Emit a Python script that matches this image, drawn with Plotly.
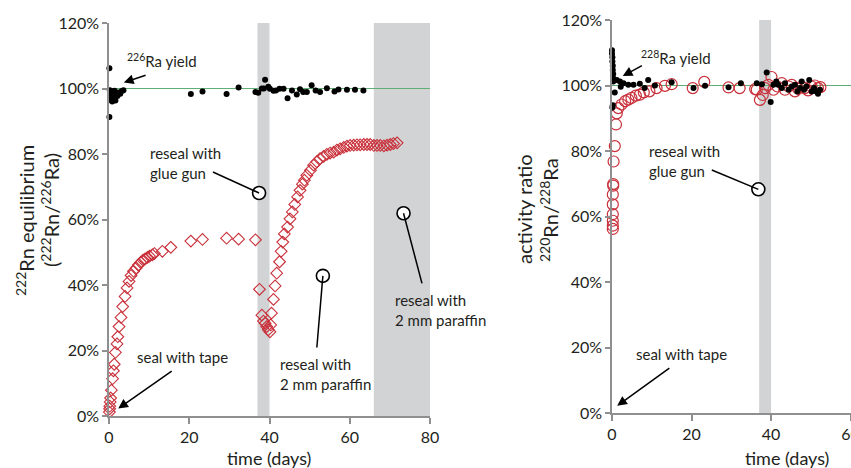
import plotly.graph_objects as go

# ---------------- data: left panel (222Rn / 226Ra) ----------------
ra226_t = [0.1, 0.1, 0.2, 0.3, 0.4, 0.5, 0.6, 0.8, 0.9, 1.0, 1.2, 1.4, 1.6, 1.8, 2.1, 2.4, 2.8, 3.2, 3.6,
           20.4, 23.3, 29.3, 32.3, 36.5, 37.2, 38.1, 38.6, 38.9, 39.7, 40.1, 41.0, 41.6, 42.5, 43.5, 44.5,
           45.6, 46.8, 47.6, 48.4, 49.3, 50.5, 51.5, 52.6, 54.3, 56.2, 57.2, 59.3, 61.3, 63.4]
ra226_v = [106.2, 91.3, 99.5, 98.0, 96.5, 97.8, 99.2, 96.0, 97.2, 98.6, 97.0, 99.3, 96.3, 98.2, 97.7, 98.8, 98.4, 99.2, 99.5,
           98.3, 99.1, 98.3, 100.3, 98.9, 98.7, 100.0, 100.0, 102.7, 100.5, 99.9, 99.3, 99.4, 99.9, 99.9, 97.0,
           99.4, 98.2, 99.8, 98.9, 98.9, 101.0, 99.4, 98.9, 100.1, 99.1, 99.7, 99.6, 99.6, 99.4]

rn222_t = [0.1, 0.15, 0.2, 0.3, 0.4, 0.6, 0.9, 1.1, 1.3, 1.6, 2.0, 2.2, 2.5, 3.0, 3.4, 4.0, 4.5, 5.0, 5.5,
           6.1, 6.8, 7.3, 7.9, 8.5, 9.0, 9.6, 10.1, 10.8, 11.3, 13.3, 15.4, 20.4, 23.3, 29.3, 32.3, 36.5,
           37.5, 38.1, 38.5, 38.9, 39.3, 39.7, 40.1, 40.3, 40.5, 41.0, 41.4, 41.8, 42.5, 42.9, 43.3, 43.7,
           44.5, 45.1, 45.7, 46.3, 47.0, 47.6, 48.2, 48.7, 49.3, 50.2, 51.0, 51.8, 52.6, 53.5, 54.3, 55.1,
           56.0, 56.8, 57.6, 58.5, 59.3, 60.1, 61.0, 61.8, 62.6, 63.5, 64.3, 65.1, 66.0, 66.8, 67.6, 68.5,
           69.3, 70.1, 70.9, 71.8]
rn222_v = [1.2, 2.2, 3.0, 4.3, 5.5, 7.9, 11.4, 13.8, 15.8, 19.4, 22.0, 24.2, 27.3, 30.1, 33.4, 36.5, 39.1, 41.1, 42.9,
           44.2, 45.2, 46.1, 46.9, 47.6, 48.0, 48.4, 48.8, 49.2, 49.6, 50.3, 51.5, 53.4, 53.9, 54.3, 54.0, 53.8,
           38.7, 30.8, 29.0, 28.3, 27.3, 26.3, 25.7, 27.8, 31.4, 35.6, 39.7, 43.6, 47.1, 50.3, 53.1, 55.6,
           57.7, 60.2, 62.3, 64.6, 66.9, 68.9, 70.8, 72.0, 73.5, 75.0, 76.6, 77.6, 78.6, 79.3, 79.9, 80.3,
           80.6, 81.2, 81.6, 82.0, 82.4, 82.6, 82.7, 82.8, 82.8, 82.9, 82.9, 82.9, 82.6, 82.6, 82.6, 82.5,
           82.7, 82.9, 83.2, 83.4]

# ---------------- data: right panel (220Rn / 228Ra) ----------------
ra228_t = [0.0, 0.0, 0.1, 0.1, 0.2, 0.2, 0.3, 0.3, 0.3, 0.7, 0.2, 0.1, 1.2, 2.0, 2.9, 2.2, 4.1, 5.4, 7.0, 8.2,
           9.1, 10.8, 15.0, 20.5, 23.4, 29.3, 32.4, 36.4, 37.7, 38.9, 39.9, 40.6, 41.3, 41.8, 42.7, 43.5,
           44.4, 45.2, 46.0, 46.6, 47.3, 47.7, 48.3, 48.9, 49.6, 50.2, 50.8, 51.4, 51.8, 52.3]
ra228_v = [110.8, 109.8, 108.6, 107.3, 106.0, 104.7, 103.5, 102.2, 101.2, 97.9, 94.0, 93.3, 101.7, 101.2, 100.7, 99.6,
           100.2, 100.2, 100.5, 99.2, 101.7, 100.0, 101.0, 99.2, 99.9, 99.5, 100.7, 100.7, 100.4, 104.0, 95.0,
           100.2, 101.2, 100.2, 99.2, 100.7, 98.7, 99.7, 100.2, 98.2, 99.2, 101.2, 98.7, 99.7, 101.7, 98.2,
           99.2, 98.2, 97.5, 98.7]

rn220_t = [0.2, 0.2, 0.2, 0.2, 0.2, 0.2, 0.3, 0.3, 0.4, 0.7, 1.0, 1.2, 1.6, 2.4, 3.3, 4.1, 4.9, 6.0, 7.0,
           8.0, 9.4, 11.2, 13.3, 15.0, 20.3, 23.2, 29.3, 32.1, 36.0, 36.4, 37.2, 37.9, 38.5, 39.3, 40.1,
           40.6, 41.6, 42.7, 43.5, 44.4, 45.2, 46.0, 46.8, 47.7, 48.5, 49.3, 50.2, 51.0, 51.8, 52.4]
rn220_v = [56.2, 57.2, 58.7, 60.7, 63.7, 66.7, 69.4, 69.9, 76.8, 81.5, 88.1, 91.5, 93.1, 94.2, 95.2, 95.7,
           96.2, 96.9, 97.2, 97.9, 98.2, 99.2, 99.9, 100.4, 99.2, 101.1, 99.4, 99.2, 98.9, 98.7, 95.6, 97.1,
           99.2, 100.2, 102.6, 98.7, 99.7, 100.7, 98.7, 99.7, 100.2, 98.2, 99.0, 99.7, 99.2, 98.5, 99.7,
           100.0, 99.2, 99.5]

# shaded intervals (days)
left_shades = [(37, 40), (66, 80)]
right_shades = [(37, 40)]

# callout circles (day, %) and the end of their leader lines
left_callout_t = [37.4, 53.3, 73.4]
left_callout_v = [68.1, 42.8, 61.9]
left_leader_t = [25.9, 51.8, 78.0]
left_leader_v = [74.5, 20.9, 40.5]
right_callout_t = [36.8]
right_callout_v = [68.3]
right_leader_t = [25.1]
right_leader_v = [74.2]

x_ticks_left = [0, 20, 40, 60, 80]
x_ticks_right = [0, 20, 40, 60]
y_ticks = [0, 20, 40, 60, 80, 100, 120]
y_tick_labels = [f"{v}%" for v in y_ticks]

FONT = "Lato"
TXT = "#231f20"
AXC = "#8f8f8f"
RED = "#c9303a"
SHADE = "#d2d3d5"
GREEN = "#5fae73"

W, H = 851, 468


def px(xp):
    return xp / W


def py(yp):
    return (H - yp) / H


fig = go.Figure()

# left traces
fig.add_trace(go.Scatter(x=rn222_t, y=rn222_v, mode="markers", xaxis="x", yaxis="y",
                         marker=dict(symbol="diamond-open", size=9, color=RED, line=dict(width=1.1, color=RED)),
                         cliponaxis=False, showlegend=False))
fig.add_trace(go.Scatter(x=ra226_t, y=ra226_v, mode="markers", xaxis="x", yaxis="y",
                         marker=dict(symbol="circle", size=6, color="black"),
                         cliponaxis=False, showlegend=False))
# right traces
fig.add_trace(go.Scatter(x=rn220_t, y=rn220_v, mode="markers", xaxis="x2", yaxis="y2",
                         marker=dict(symbol="circle-open", size=11, color=RED, line=dict(width=1.2, color=RED)),
                         cliponaxis=False, showlegend=False))
fig.add_trace(go.Scatter(x=ra228_t, y=ra228_v, mode="markers", xaxis="x2", yaxis="y2",
                         marker=dict(symbol="circle", size=6, color="black"),
                         cliponaxis=False, showlegend=False))

shapes = []
for a, b in left_shades:
    shapes.append(dict(type="rect", xref="x", yref="y domain", x0=a, x1=b, y0=0, y1=1,
                       fillcolor=SHADE, line=dict(width=0), layer="below"))
for a, b in right_shades:
    shapes.append(dict(type="rect", xref="x2", yref="y2 domain", x0=a, x1=b, y0=0, y1=1,
                       fillcolor=SHADE, line=dict(width=0), layer="below"))
shapes.append(dict(type="line", xref="x domain", yref="y", x0=0, x1=1, y0=100, y1=100,
                   line=dict(color=GREEN, width=1.2), layer="below"))
shapes.append(dict(type="line", xref="x2 domain", yref="y2", x0=0, x1=1, y0=100, y1=100,
                   line=dict(color=GREEN, width=1.2), layer="below"))
# leader lines
for t0, v0, t1, v1 in zip(left_callout_t, left_callout_v, left_leader_t, left_leader_v):
    shapes.append(dict(type="line", xref="x", yref="y", x0=t0, y0=v0, x1=t1, y1=v1,
                       line=dict(color="black", width=1.5), layer="above"))
for t0, v0, t1, v1 in zip(right_callout_t, right_callout_v, right_leader_t, right_leader_v):
    shapes.append(dict(type="line", xref="x2", yref="y2", x0=t0, y0=v0, x1=t1, y1=v1,
                       line=dict(color="black", width=1.5), layer="above"))

# callout circles
fig.add_trace(go.Scatter(x=left_callout_t, y=left_callout_v, mode="markers", xaxis="x", yaxis="y",
                         marker=dict(symbol="circle", size=13, color="white", line=dict(width=1.6, color="black")),
                         cliponaxis=False, showlegend=False))
fig.add_trace(go.Scatter(x=right_callout_t, y=right_callout_v, mode="markers", xaxis="x2", yaxis="y2",
                         marker=dict(symbol="circle", size=13, color="white", line=dict(width=1.6, color="black")),
                         cliponaxis=False, showlegend=False))

tf = dict(family=FONT, size=16, color=TXT)


def ann_text(text, x, y, xref, yref, xanchor="left", size=15, align="left"):
    return dict(text=text, x=x, y=y, xref=xref, yref=yref, xanchor=xanchor, yanchor="middle",
                showarrow=False, align=align, font=dict(family=FONT, size=size, color=TXT))


def ann_arrow(x, y, ax, ay, xref, yref):
    return dict(text="", x=x, y=y, ax=ax, ay=ay, xref=xref, yref=yref, axref=xref, ayref=yref,
                showarrow=True, arrowhead=2, arrowsize=1.3, arrowwidth=1.5, arrowcolor="black")


annotations = [
    # left panel
    ann_text("<sup>226</sup>Ra yield", 4.0, 108.6, "x", "y"),
    ann_arrow(3.7, 101.8, 9.5, 104.2, "x", "y"),
    ann_text("reseal with<br>glue gun", 9.6, 77.2, "x", "y"),
    ann_text("reseal with<br>2 mm paraffin", 42.1, 12.8, "x", "y"),
    ann_text("reseal with<br>2 mm paraffin", 70.8, 32.4, "x", "y"),
    ann_text("seal with tape", 18.2, 18.0, "x", "y", xanchor="center"),
    ann_arrow(2.3, 2.3, 16.0, 14.0, "x", "y"),
    # right panel
    ann_text("<sup>228</sup>Ra yield", 6.8, 108.7, "x2", "y2"),
    ann_arrow(2.7, 102.9, 7.9, 106.3, "x2", "y2"),
    ann_text("reseal with<br>glue gun", 8.8, 76.9, "x2", "y2"),
    ann_text("seal with tape", 17.4, 18.0, "x2", "y2", xanchor="center"),
    ann_arrow(1.3, 2.2, 14.8, 14.0, "x2", "y2"),
    # axis titles
    dict(text="<sup>222</sup>Rn equilibrium", x=px(25), y=py(221), xref="paper", yref="paper",
         xanchor="center", yanchor="middle", textangle=-90, showarrow=False,
         font=dict(family=FONT, size=20, color=TXT)),
    dict(text="(<sup>222</sup>Rn/<sup>226</sup>Ra)", x=px(50), y=py(210), xref="paper", yref="paper",
         xanchor="center", yanchor="middle", textangle=-90, showarrow=False,
         font=dict(family=FONT, size=20, color=TXT)),
    dict(text="activity ratio", x=px(524), y=py(209), xref="paper", yref="paper",
         xanchor="center", yanchor="middle", textangle=-90, showarrow=False,
         font=dict(family=FONT, size=20, color=TXT)),
    dict(text="<sup>220</sup>Rn/<sup>228</sup>Ra", x=px(549), y=py(210), xref="paper", yref="paper",
         xanchor="center", yanchor="middle", textangle=-90, showarrow=False,
         font=dict(family=FONT, size=20, color=TXT)),
    dict(text="time (days)", x=px(269), y=py(458), xref="paper", yref="paper",
         xanchor="center", yanchor="middle", showarrow=False, font=dict(family=FONT, size=18, color=TXT)),
    dict(text="time (days)", x=px(787), y=py(458), xref="paper", yref="paper",
         xanchor="center", yanchor="middle", showarrow=False, font=dict(family=FONT, size=18, color=TXT)),
]

axis_common = dict(showgrid=False, zeroline=False, showline=True, linecolor=AXC, linewidth=1.5,
                   ticks="outside", tickcolor=AXC, tickwidth=1.5, tickfont=tf,
                   ticklabeloverflow="allow", automargin=False)

fig.update_layout(
    width=W, height=H, margin=dict(l=0, r=0, t=0, b=0, autoexpand=False),
    paper_bgcolor="white", plot_bgcolor="white",
    font=dict(family=FONT, color=TXT),
    xaxis=dict(domain=[px(109), px(430)], range=[0, 80], tickvals=x_ticks_left, anchor="y",
               ticklen=6, **axis_common),
    yaxis=dict(domain=[py(416), py(23)], range=[0, 120], tickvals=y_ticks, ticktext=y_tick_labels,
               anchor="x", ticklen=5, **axis_common),
    xaxis2=dict(domain=[px(612), 1.0], range=[0, 60.1], tickvals=x_ticks_right, anchor="y2",
                ticklen=6, **axis_common),
    yaxis2=dict(domain=[py(413), py(20)], range=[0, 120], tickvals=y_ticks, ticktext=y_tick_labels,
                anchor="x2", ticklen=5, **axis_common),
    shapes=shapes,
    annotations=annotations,
)

fig.write_html("out.html")
